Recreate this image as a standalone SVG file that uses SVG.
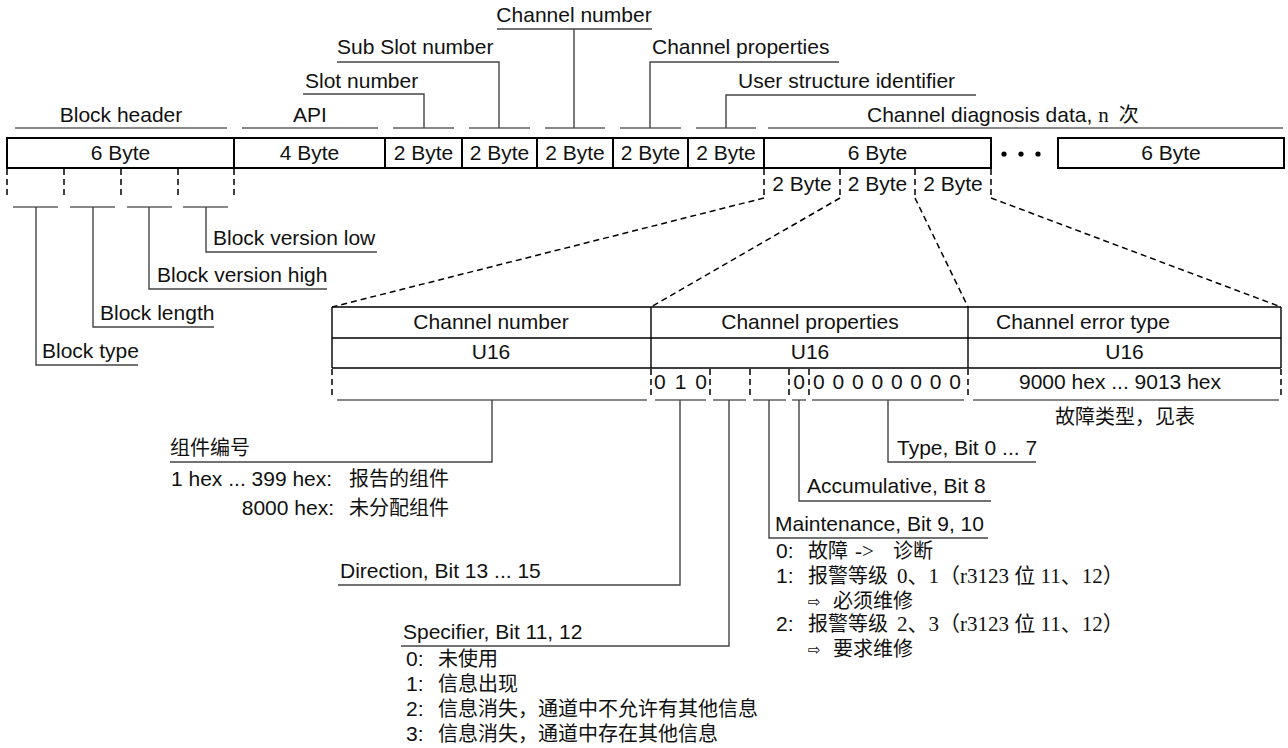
<svg xmlns="http://www.w3.org/2000/svg" width="1288" height="748" viewBox="0 0 1288 748">
<style>
.t{font-family:"Liberation Sans",Arial,sans-serif;font-size:21px;fill:#111}
.m{text-anchor:middle}
.e{text-anchor:end}
.cj{font-family:"Noto Sans CJK SC","Liberation Sans",sans-serif;font-size:20px;fill:#111}
.mx{font-family:"Liberation Serif","Noto Sans CJK SC",serif;font-size:21px;fill:#111}
.ar{font-family:"DejaVu Sans","Noto Sans CJK SC",sans-serif;font-size:15px;fill:#111}
.box{fill:#fff;stroke:#000;stroke-width:2}
.tb{fill:none;stroke:#000;stroke-width:1.4}
.ds{fill:none;stroke:#000;stroke-width:1.5;stroke-dasharray:6 4}
.ul{fill:none;stroke:#888;stroke-width:2}
.ld{fill:none;stroke:#444;stroke-width:1.4}
</style>

<g id="connectors">
  <!-- top underlines -->
  <path class="ul" d="M15 128H227M242 128H378M393 128H454M469 128H530M545 128H605M620 128H681M696 128H756M768 128H1283"/>
  <!-- top leaders -->
  <polyline class="ld" points="424,128 424,94 303,94"/>
  <polyline class="ld" points="499,128 499,62 337,62"/>
  <path class="ld" d="M574 128V29M497 29H652"/>
  <polyline class="ld" points="650,128 650,62 839,62"/>
  <polyline class="ld" points="726,128 726,95 976,95"/>
  <!-- block header breakdown -->
  <path class="ds" d="M7 169V197M64 169V197M121 169V197M178 169V197M234 169V197"/>
  <path class="ul" d="M13 207H58M70 207H115M127 207H172M183 207H228"/>
  <polyline class="ld" points="36,207 36,365 138,365"/>
  <polyline class="ld" points="93,207 93,327 214,327"/>
  <polyline class="ld" points="149,207 149,289 327,289"/>
  <polyline class="ld" points="206,207 206,252 377,252"/>
  <!-- channel diagnosis breakdown -->
  <path class="ds" d="M764 169V197M840 169V197M915 169V197M991 169V197"/>
  <path class="ds" d="M764 198L332 307M840 198L651 307M915 198L968 307M991 198L1281 307"/>
  <!-- table bottom row -->
  <path class="ds" d="M332 369V398M651 369V398M710 369V398M750 369V398M789 369V398M809 369V398M968 369V398M1281 369V398"/>
  <path class="ul" d="M337 400H647M655 400H706M713 400H746M753 400H786M792 400H806M812 400H964M973 400H1279"/>
  <polyline class="ld" points="492,400 492,462 170,462"/>
  <polyline class="ld" points="680,400 680,585 338,585"/>
  <polyline class="ld" points="729,400 729,646 401,646"/>
  <polyline class="ld" points="769,400 769,538 988,538"/>
  <polyline class="ld" points="799,400 799,501 991,501"/>
  <polyline class="ld" points="888,400 888,462 1036,462"/>
</g>

<g id="top-labels">
  <text class="t m" x="121" y="122">Block header</text>
  <text class="t m" x="310" y="122">API</text>
  <text class="t" x="305" y="88">Slot number</text>
  <text class="t" x="337" y="54">Sub Slot number</text>
  <text class="t m" x="574" y="22">Channel number</text>
  <text class="t" x="652" y="54">Channel properties</text>
  <text class="t" x="738" y="88">User structure identifier</text>
  <text class="t" x="867" y="122">Channel diagnosis data,<tspan class="mx" dx="6">n</tspan><tspan class="cj" dx="10">次</tspan></text>
</g>

<g id="byte-row">
  <rect class="box" x="7" y="138" width="227" height="30"/>
  <rect class="box" x="234" y="138" width="151" height="30"/>
  <rect class="box" x="385" y="138" width="77" height="30"/>
  <rect class="box" x="462" y="138" width="75" height="30"/>
  <rect class="box" x="537" y="138" width="76" height="30"/>
  <rect class="box" x="613" y="138" width="75" height="30"/>
  <rect class="box" x="688" y="138" width="76" height="30"/>
  <rect class="box" x="764" y="138" width="227" height="30"/>
  <rect class="box" x="1058" y="138" width="226" height="30"/>
  <text class="t m" x="120.5" y="160">6 Byte</text>
  <text class="t m" x="309.5" y="160">4 Byte</text>
  <text class="t m" x="423.5" y="160">2 Byte</text>
  <text class="t m" x="499.5" y="160">2 Byte</text>
  <text class="t m" x="575" y="160">2 Byte</text>
  <text class="t m" x="650.5" y="160">2 Byte</text>
  <text class="t m" x="726" y="160">2 Byte</text>
  <text class="t m" x="877.5" y="160">6 Byte</text>
  <text class="t m" x="1171" y="160">6 Byte</text>
  <circle cx="1004" cy="154" r="2.6" fill="#000"/>
  <circle cx="1021" cy="154" r="2.6" fill="#000"/>
  <circle cx="1038" cy="154" r="2.6" fill="#000"/>
  <text class="t m" x="802" y="191">2 Byte</text>
  <text class="t m" x="877.5" y="191">2 Byte</text>
  <text class="t m" x="953" y="191">2 Byte</text>
</g>

<g id="block-header-parts">
  <text class="t" x="213" y="245">Block version low</text>
  <text class="t" x="157" y="282">Block version high</text>
  <text class="t" x="100" y="320">Block length</text>
  <text class="t" x="42" y="358">Block type</text>
</g>

<g id="diag-table">
  <path class="tb" d="M332 307H1281M332 338H1281M332 368H1281M332 307V368M651 307V368M968 307V368M1281 307V368"/>
  <text class="t m" x="491" y="329">Channel number</text>
  <text class="t m" x="810" y="329">Channel properties</text>
  <text class="t" x="996" y="329">Channel error type</text>
  <text class="t m" x="491" y="359">U16</text>
  <text class="t m" x="810" y="359">U16</text>
  <text class="t m" x="1124.5" y="359">U16</text>
  <text class="t" x="654" y="389" textLength="53">0 1 0</text>
  <text class="t m" x="799" y="389">0</text>
  <text class="t" x="813" y="389" textLength="148">0 0 0 0 0 0 0 0</text>
  <text class="t m" x="1120" y="389">9000 hex ... 9013 hex</text>
  <text class="cj" x="1055" y="424">故障类型，见表</text>
</g>

<g id="component-number">
  <text class="cj" x="170" y="455">组件编号</text>
  <text class="t" x="171" y="486">1 hex ... 399 hex:</text>
  <text class="cj" x="349" y="486">报告的组件</text>
  <text class="t e" x="334" y="515">8000 hex:</text>
  <text class="cj" x="349" y="515">未分配组件</text>
</g>

<g id="direction">
  <text class="t" x="340" y="578">Direction, Bit 13 ... 15</text>
</g>

<g id="specifier">
  <text class="t" x="403" y="639">Specifier, Bit 11, 12</text>
  <text class="t" x="406" y="666">0:</text><text class="cj" x="438" y="666">未使用</text>
  <text class="t" x="406" y="691">1:</text><text class="cj" x="438" y="691">信息出现</text>
  <text class="t" x="406" y="716">2:</text><text class="cj" x="438" y="716">信息消失，通道中不允许有其他信息</text>
  <text class="t" x="406" y="741">3:</text><text class="cj" x="438" y="741">信息消失，通道中存在其他信息</text>
</g>

<g id="maintenance">
  <text class="t" x="775" y="531">Maintenance, Bit 9, 10</text>
  <text class="t" x="776" y="558">0:</text>
  <text class="cj" x="808" y="558">故障</text>
  <text class="mx" x="855" y="558">-&gt;</text>
  <text class="cj" x="893" y="558">诊断</text>
  <text class="t" x="776" y="583">1:</text>
  <text class="cj" x="808" y="583">报警等级</text>
  <text class="mx" x="897" y="583">0、1（r3123 位 11、12）</text>
  <text class="ar" x="808" y="607">⇨</text>
  <text class="cj" x="833" y="608">必须维修</text>
  <text class="t" x="776" y="631">2:</text>
  <text class="cj" x="808" y="631">报警等级</text>
  <text class="mx" x="897" y="631">2、3（r3123 位 11、12）</text>
  <text class="ar" x="808" y="655">⇨</text>
  <text class="cj" x="833" y="656">要求维修</text>
</g>

<g id="accumulative">
  <text class="t" x="807" y="493">Accumulative, Bit 8</text>
</g>

<g id="type">
  <text class="t" x="897" y="455">Type, Bit 0 ... 7</text>
</g>
</svg>
